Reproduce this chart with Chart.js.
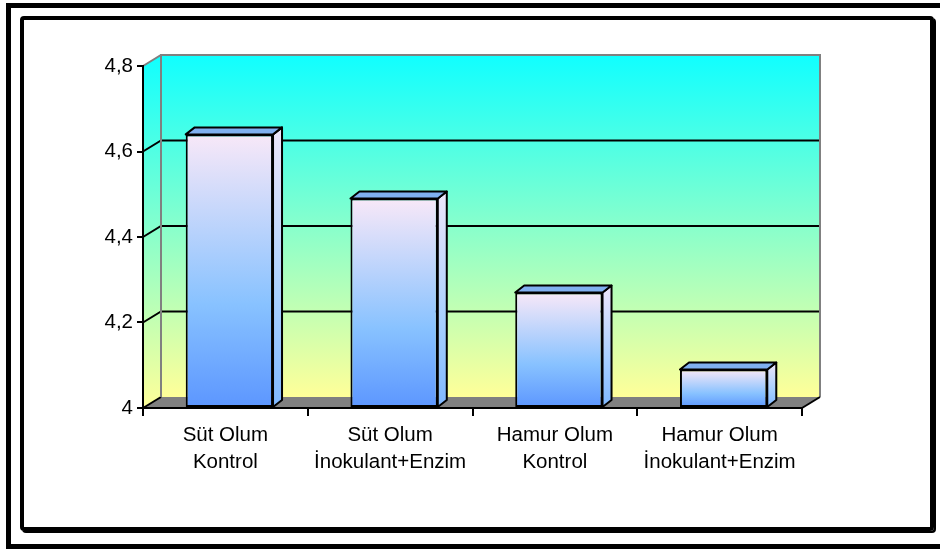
<!DOCTYPE html>
<html lang="tr">
<head>
    <meta charset="UTF-8">
    <title>Olum pH</title>
    <script src="https://cdn.jsdelivr.net/npm/chart.js@4.4.0/dist/chart.umd.min.js"></script>
    <style>
        html, body {
            margin: 0;
            padding: 0;
            background: #fff;
            overflow: hidden;
        }
        .wrap {
            position: relative;
            width: 940px;
            height: 549px;
            overflow: hidden;
        }
        .frame-outer {
            position: absolute;
            box-sizing: border-box;
            left: 6px;
            top: 3px;
            width: 960px;
            height: 546px;
            border: 5px solid #000;
            pointer-events: none;
        }
        .frame-inner {
            position: absolute;
            box-sizing: border-box;
            left: 20px;
            top: 16px;
            width: 914px;
            height: 515px;
            border: 4px solid #000;
            border-radius: 4px;
            box-shadow: 2px 2px 0 #000;
            pointer-events: none;
        }
    </style>
</head>
<body>
    <div class="wrap">
        <canvas id="chart" width="940" height="549"></canvas>
        <div class="frame-outer"></div>
        <div class="frame-inner"></div>
    </div>

    <script>
        const categories = [
            ['Süt Olum', 'Kontrol'],
            ['Süt Olum', 'İnokulant+Enzim'],
            ['Hamur Olum', 'Kontrol'],
            ['Hamur Olum', 'İnokulant+Enzim']
        ];
        const values = [4.64, 4.49, 4.27, 4.09];
        const yTicks = [4, 4.2, 4.4, 4.6, 4.8];

        // depth of the walls and of the bars (3D look)
        const WALL_DX = 18, WALL_DY = 11;
        const BAR_DX = 9, BAR_DY = 7, BAR_SHIFT = 4;
        const FONT = { family: '"Liberation Sans", Arial, sans-serif', size: 20.5, lineHeight: 1.3 };

        function wallGradient(ctx, top, bottom) {
            const g = ctx.createLinearGradient(0, top, 0, bottom);
            g.addColorStop(0, '#10ffff');
            g.addColorStop(1, '#ffff99');
            return g;
        }

        const wallsPlugin = {
            id: 'walls',
            beforeDraw(chart) {
                const { ctx, chartArea: a, scales: { y } } = chart;
                const bTop = a.top - WALL_DY, bBottom = a.bottom - WALL_DY;
                const bLeft = a.left + WALL_DX, bRight = a.right + WALL_DX;
                ctx.save();

                // left side wall
                ctx.fillStyle = wallGradient(ctx, bTop, a.bottom);
                ctx.beginPath();
                ctx.moveTo(a.left, a.top);
                ctx.lineTo(bLeft, bTop);
                ctx.lineTo(bLeft, bBottom);
                ctx.lineTo(a.left, a.bottom);
                ctx.closePath();
                ctx.fill();

                // back wall
                ctx.fillStyle = wallGradient(ctx, bTop, bBottom);
                ctx.fillRect(bLeft, bTop, bRight - bLeft, bBottom - bTop);

                // floor
                ctx.fillStyle = '#808080';
                ctx.beginPath();
                ctx.moveTo(a.left, a.bottom);
                ctx.lineTo(bLeft, bBottom);
                ctx.lineTo(bRight, bBottom);
                ctx.lineTo(a.right, a.bottom);
                ctx.closePath();
                ctx.fill();

                // grid lines on the back wall + diagonal ticks on the side wall
                ctx.lineWidth = 2;
                yTicks.forEach((v, i) => {
                    const py = y.getPixelForValue(v);
                    const isTop = i === yTicks.length - 1;
                    ctx.strokeStyle = isTop ? '#808080' : '#000';
                    ctx.beginPath();
                    ctx.moveTo(a.left, py);
                    ctx.lineTo(bLeft, py - WALL_DY);
                    if (i > 0) ctx.lineTo(bRight, py - WALL_DY);
                    ctx.stroke();
                });

                // back wall border
                ctx.strokeStyle = '#808080';
                ctx.beginPath();
                ctx.moveTo(bLeft, bBottom);
                ctx.lineTo(bLeft, bTop);
                ctx.lineTo(bRight, bTop);
                ctx.lineTo(bRight, bBottom);
                ctx.stroke();

                // front right edge of the floor
                ctx.strokeStyle = '#000';
                ctx.beginPath();
                ctx.moveTo(a.right, a.bottom);
                ctx.lineTo(bRight, bBottom);
                ctx.stroke();
                ctx.restore();
            },
            beforeDatasetsDraw(chart) {
                chart.ctx.save();
                chart.ctx.translate(BAR_SHIFT, 0);
            },
            afterDatasetsDraw(chart) {
                const ctx = chart.ctx;
                const meta = chart.getDatasetMeta(0);
                ctx.lineWidth = 2;
                ctx.lineJoin = 'round';
                ctx.strokeStyle = '#000';
                meta.data.forEach(bar => {
                    const { x, y, base, width } = bar.getProps(['x', 'y', 'base', 'width'], true);
                    const l = x - width / 2, r = x + width / 2;
                    const b = Math.min(base, chart.chartArea.bottom);

                    // side face
                    const gs = ctx.createLinearGradient(0, y - BAR_DY, 0, b);
                    gs.addColorStop(0, '#eee6fa');
                    gs.addColorStop(0.6, '#a8d0ff');
                    gs.addColorStop(1, '#80b8ff');
                    ctx.fillStyle = gs;
                    ctx.beginPath();
                    ctx.moveTo(r, y);
                    ctx.lineTo(r + BAR_DX, y - BAR_DY);
                    ctx.lineTo(r + BAR_DX, b - BAR_DY);
                    ctx.lineTo(r, b);
                    ctx.closePath();
                    ctx.fill();
                    ctx.stroke();

                    // top face
                    ctx.fillStyle = '#80b0f0';
                    ctx.beginPath();
                    ctx.moveTo(l, y);
                    ctx.lineTo(l + BAR_DX, y - BAR_DY);
                    ctx.lineTo(r + BAR_DX, y - BAR_DY);
                    ctx.lineTo(r, y);
                    ctx.closePath();
                    ctx.fill();
                    ctx.stroke();
                });
                ctx.restore();
            }
        };

        function barGradient(context) {
            const chart = context.chart;
            const area = chart.chartArea;
            if (!area || context.type !== 'data') return '#6699ff';
            const top = chart.scales.y.getPixelForValue(context.raw);
            const g = chart.ctx.createLinearGradient(0, top, 0, area.bottom);
            g.addColorStop(0, '#f8e8f8');
            g.addColorStop(0.62, '#88c2ff');
            g.addColorStop(1, '#5c96ff');
            return g;
        }

        new Chart(document.getElementById('chart'), {
            type: 'bar',
            data: {
                labels: categories,
                datasets: [{
                    data: values,
                    base: 4,
                    backgroundColor: barGradient,
                    borderColor: '#000',
                    borderWidth: 2,
                    borderSkipped: false,
                    categoryPercentage: 1,
                    barPercentage: 0.53
                }]
            },
            options: {
                responsive: false,
                animation: false,
                devicePixelRatio: 1,
                layout: { padding: { left: 83, top: 66, right: 138, bottom: 41 } },
                plugins: {
                    legend: { display: false },
                    tooltip: { enabled: false }
                },
                scales: {
                    x: {
                        offset: true,
                        afterFit: s => { s.height = 100; },
                        grid: { offset: true, drawOnChartArea: false, color: '#000', lineWidth: 2, tickLength: 8 },
                        border: { color: '#000', width: 2 },
                        ticks: { color: '#000', font: FONT, padding: 6, maxRotation: 0, autoSkip: false }
                    },
                    y: {
                        min: 4,
                        max: 4.8,
                        afterFit: s => { s.width = 60; },
                        afterBuildTicks: s => { s.ticks = yTicks.map(v => ({ value: v })); },
                        grid: { drawOnChartArea: false, color: '#000', lineWidth: 2, tickLength: 6 },
                        border: { color: '#000', width: 2 },
                        ticks: {
                            color: '#000',
                            font: FONT,
                            padding: 4,
                            callback: v => Number.isInteger(v) ? String(v) : v.toFixed(1).replace('.', ',')
                        }
                    }
                }
            },
            plugins: [wallsPlugin]
        });
    </script>
</body>
</html>
